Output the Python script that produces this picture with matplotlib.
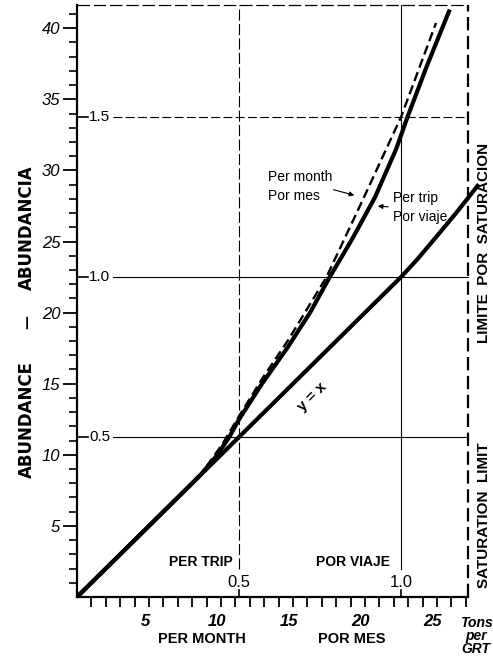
import numpy as np
import matplotlib
matplotlib.use("Agg")
import matplotlib.pyplot as plt
from matplotlib.ticker import FixedLocator
from matplotlib.transforms import ScaledTranslation

plt.rcParams["font.family"] = ["Liberation Sans", "DejaVu Sans"]

W, H = 493, 659
TRIP = 22.5          # one "per trip" unit on the per-month / abundance scale
SAT = 27.15          # saturation limit, per-month units

month_ticks = [5, 10, 15, 20, 25]
month_minor = list(range(1, 28))
abund_ticks = [5, 10, 15, 20, 25, 30, 35, 40]
abund_minor = list(range(1, 42))
trip_ticks = [0.5, 1.0, 1.5]
trip_labels = ["0.5", "1.0", "1.5"]

# curves, read in "per trip" units
per_trip_x = [0.00, 0.38, 0.43, 0.47, 0.50, 0.57, 0.65, 0.72, 0.78, 0.85, 0.92, 0.985, 1.02, 1.08, 1.148]
per_trip_y = [0.00, 0.38, 0.44, 0.50, 0.555, 0.665, 0.78, 0.89, 1.00, 1.12, 1.25, 1.40, 1.50, 1.66, 1.83]
per_month_x = [0.00, 0.38, 0.45, 0.50, 0.57, 0.65, 0.77, 0.886, 1.00, 1.108]
per_month_y = [0.00, 0.38, 0.48, 0.565, 0.68, 0.80, 1.00, 1.25, 1.50, 1.794]
ident_x = [0.00, 0.50, 0.90, 1.00, 1.05, 1.10, 1.17, 1.24]
ident_y = [0.00, 0.50, 0.90, 1.00, 1.055, 1.115, 1.20, 1.29]


def fpos(x, y):
    # pixel position in the picture -> figure fraction
    return x / W, 1 - y / H


fig = plt.figure(figsize=(W / 100, H / 100), dpi=100)
x0, y0 = 77, 597
ax = fig.add_axes([x0 / W, (H - y0) / H, (W - x0) / W, (y0 - 5) / H])
xmax = (W - x0) / 14.4
ymax = (y0 - 5) / 14.22
ax.set_xlim(0, xmax)
ax.set_ylim(0, ymax)

for s in ("top", "right"):
    ax.spines[s].set_visible(False)
for s in ("left", "bottom"):
    ax.spines[s].set_linewidth(1.6)
ax.spines["bottom"].set_bounds(0, SAT)

ax.xaxis.set_major_locator(FixedLocator(month_ticks))
ax.xaxis.set_minor_locator(FixedLocator(month_minor))
ax.yaxis.set_major_locator(FixedLocator(abund_ticks))
ax.yaxis.set_minor_locator(FixedLocator(abund_minor))
ax.set_xticklabels([str(v) for v in month_ticks], fontsize=12, style="italic", fontweight="bold")
ax.set_yticklabels([str(v) for v in abund_ticks], fontsize=12, style="italic")
ax.tick_params(axis="x", which="both", length=7, width=1.3, pad=5)
ax.tick_params(axis="y", which="major", length=10, width=1.3, pad=2)
ax.tick_params(axis="y", which="minor", length=6, width=1.2)
for lab in ax.get_xticklabels():
    lab.set_transform(lab.get_transform() + ScaledTranslation(-0.04, 0, fig.dpi_scale_trans))

# saturation limit and top border
ax.plot([SAT, SAT], [0, ymax], color="black", lw=1.6, dashes=(6, 2.5), clip_on=False)
ax.plot([0, SAT], [ymax, ymax], color="black", lw=0.9, dashes=(10, 3), clip_on=False)

# "per trip" grid
for t, lab in zip(trip_ticks, trip_labels):
    yv = t * TRIP
    ax.plot([0, 0.75], [yv, yv], color="black", lw=1.2)
    ax.text(0.85, yv, lab, fontsize=11, ha="left", va="center")
    ls = dict(dashes=(8, 3)) if t == 1.5 else {}
    ax.plot([2.5, SAT], [yv, yv], color="black", lw=0.8, **ls)
for t, lab in zip(trip_ticks[:2], trip_labels[:2]):
    xv = t * TRIP
    ls = dict(dashes=(10, 3)) if t == 0.5 else {}
    ax.plot([xv, xv], [2.0, ymax], color="black", lw=0.8, **ls)
    ax.plot([xv, xv], [0, 0.5], color="black", lw=1.2)
    ax.text(xv, 1.0, lab, fontsize=12, ha="center", va="center")

# curves
ax.plot(np.array(ident_x) * TRIP, np.array(ident_y) * TRIP, color="black", lw=3.0,
        solid_capstyle="butt", solid_joinstyle="round")
ax.plot(np.array(per_trip_x) * TRIP, np.array(per_trip_y) * TRIP, color="black", lw=3.0,
        solid_joinstyle="round")
ax.plot(np.array(per_month_x) * TRIP, np.array(per_month_y) * TRIP, color="black", lw=1.7,
        dashes=(4, 2))

# labels
fig.text(*fpos(312, 397), "y = x", fontsize=11, fontweight="bold", rotation=45,
         ha="center", va="center")
fig.text(*fpos(268, 177), "Per month", fontsize=10, ha="left", va="center")
fig.text(*fpos(268, 196), "Por mes", fontsize=10, ha="left", va="center")
fig.text(*fpos(393, 198), "Per trip", fontsize=10, ha="left", va="center")
fig.text(*fpos(393, 217), "Por viaje", fontsize=10, ha="left", va="center")
arrow = dict(arrowstyle="-|>", color="black", lw=0.8, mutation_scale=7)
ax.annotate("", xy=fpos(357, 196), xytext=fpos(331, 189), xycoords="figure fraction",
            textcoords="figure fraction", arrowprops=arrow)
ax.annotate("", xy=fpos(375, 206), xytext=fpos(391, 207), xycoords="figure fraction",
            textcoords="figure fraction", arrowprops=arrow)

fig.text(*fpos(233, 562), "PER TRIP", fontsize=10, fontweight="bold", ha="right", va="center")
fig.text(*fpos(353, 562), "POR VIAJE", fontsize=10, fontweight="bold", ha="center", va="center")
fig.text(*fpos(202, 639), "PER MONTH", fontsize=10.5, fontweight="bold", ha="center", va="center")
fig.text(*fpos(352, 639), "POR MES", fontsize=10.5, fontweight="bold", ha="center", va="center")
fig.text(*fpos(476, 636), "Tons\nper\nGRT", fontsize=10, fontweight="bold", style="italic",
         ha="center", va="center", linespacing=0.95)

fig.text(*fpos(27, 420), "ABUNDANCE", family="DejaVu Sans", fontsize=12, fontweight="bold",
         rotation=90, ha="center", va="center")
fig.text(*fpos(27, 322), "\u2014", family="DejaVu Sans", fontsize=10, fontweight="bold",
         rotation=90, ha="center", va="center")
fig.text(*fpos(27, 228), "ABUNDANCIA", family="DejaVu Sans", fontsize=12, fontweight="bold",
         rotation=90, ha="center", va="center")
fig.text(*fpos(484, 243), "LIMITE  POR  SATURACION", fontsize=11, fontweight="bold",
         rotation=90, ha="center", va="center")
fig.text(*fpos(484, 515), "SATURATION  LIMIT", fontsize=11, fontweight="bold",
         rotation=90, ha="center", va="center")

fig.savefig("out.png", dpi=100)
